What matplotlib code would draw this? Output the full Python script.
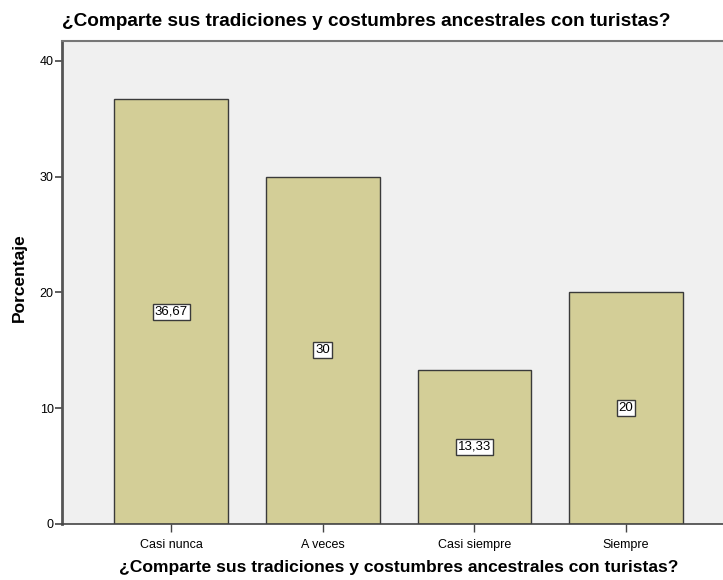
import matplotlib.pyplot as plt

categorias = ['Casi nunca', 'A veces', 'Casi siempre', 'Siempre']
porcentajes = [36.67, 30.0, 13.33, 20.0]
etiquetas = ['36,67', '30', '13,33', '20']
titulo = '¿Comparte sus tradiciones y costumbres ancestrales con turistas?'

plt.rcParams['font.family'] = ['Liberation Sans', 'DejaVu Sans']

fig = plt.figure(figsize=(7.23, 5.80), dpi=100)
ax = fig.add_axes([0.0858, 0.0966, 0.9310, 0.8327])
ax.set_facecolor('#F0F0F0')

x = range(len(categorias))
ax.bar(x, porcentajes, width=0.75, color='#D3CE97', edgecolor='#3A3A3A', linewidth=1.0, zorder=2)

for i, (v, lab) in enumerate(zip(porcentajes, etiquetas)):
    ax.text(i, v / 2, lab, ha='center', va='center', fontsize=9.5, zorder=3,
            bbox=dict(boxstyle='square,pad=0.15', facecolor='white', edgecolor='#3A3A3A', linewidth=1))

ax.set_xlim(-0.72, 3.72)
ax.set_ylim(0, 41.7)
ax.set_yticks([0, 10, 20, 30, 40])
ax.set_xticks(list(x))
ax.set_xticklabels(categorias, fontsize=9)
ax.tick_params(axis='y', labelsize=9, length=5, width=1.2, color='#444444', pad=1)
ax.tick_params(axis='x', length=6, width=1, color='#444444', pad=5)

ax.spines['left'].set_color('#555555')
ax.spines['left'].set_linewidth(2)
ax.spines['bottom'].set_color('#444444')
ax.spines['bottom'].set_linewidth(1.2)
ax.spines['top'].set_color('#777777')
ax.spines['top'].set_linewidth(1.5)
ax.spines['right'].set_visible(False)

ax.set_ylabel('Porcentaje', fontsize=12.5, fontweight='bold', labelpad=9, y=0.51)
ax.set_xlabel(titulo, fontsize=12.6, fontweight='bold', labelpad=6)
fig.text(62 / 723, 1 - 21 / 580, titulo, fontsize=13.7, fontweight='bold', ha='left', va='center')

fig.savefig('out.png', dpi=100)
